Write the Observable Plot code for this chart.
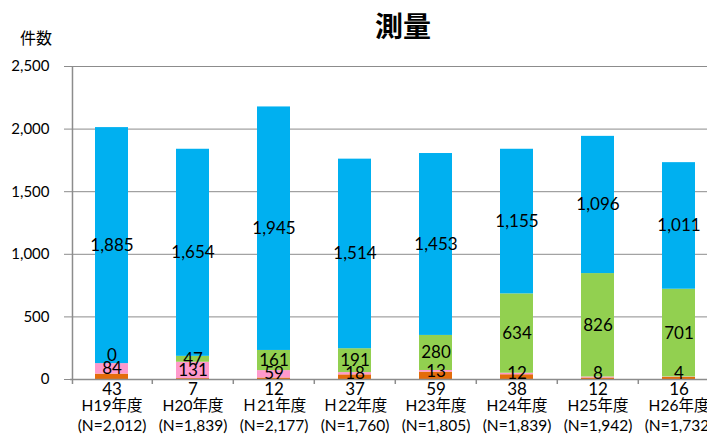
<!DOCTYPE html>
<html><head><meta charset="utf-8">
<script src="https://cdn.jsdelivr.net/npm/d3@7"></script>
<script src="https://cdn.jsdelivr.net/npm/@observablehq/plot@0.6"></script>
<style>
body{margin:0;background:#fff;}
#wrap{position:relative;width:707px;height:437px;overflow:hidden;font-family:Lato,"Noto Sans CJK JP",sans-serif;}
#title{position:absolute;left:343px;width:120px;top:10px;text-align:center;font-family:"Noto Sans CJK JP",sans-serif;font-weight:bold;font-size:28px;line-height:30px;color:#000;}
#ylab{position:absolute;left:16px;width:40px;top:28px;text-align:center;font-family:"Noto Sans CJK JP",sans-serif;font-size:16px;line-height:18px;color:#000;}
#chart{position:absolute;left:0;top:0;}
</style></head>
<body>
<div id="wrap">
<div id="chart"></div>
<div id="title">測量</div>
<div id="ylab">件数</div>
</div>
<script>
const years = ["H19年度","H20年度","Ｈ21年度","Ｈ22年度","H23年度","H24年度","H25年度","H26年度"];
const totals = [2012,1839,2177,1760,1805,1839,1942,1732];
const seriesNames = ["系列1","系列2","系列3","系列4"];
const seriesColors = ["#E46C0A","#FF99CC","#92D050","#00B0F0"];
const orange = [43,7,12,37,59,38,12,16];
const pink = [84,131,59,18,13,12,8,4];
const green = [0,47,161,191,280,634,826,701];
const blue = [1885,1654,1945,1514,1453,1155,1096,1011];
const yTicks = [0,500,1000,1500,2000,2500];

const seriesValues = [orange, pink, green, blue];
const rows = [];
years.forEach((yr, i) => {
  let acc = 0;
  seriesValues.forEach((vals, s) => {
    const v = vals[i];
    rows.push({year: yr, series: seriesNames[s], value: v, y1: acc, y2: acc + v});
    acc += v;
  });
});
const fmt = d3.format(",");
const step = 81.43;
const pad = 0.595;
const base = 68.8;
const r0 = base - step * pad / 2;
const r1 = r0 + step * (years.length + pad);
const grid = "#8c8c8c";
const isBottom = d => d.series === seriesNames[0];

const chart = Plot.plot({
  width: 707, height: 437,
  marginLeft: 70, marginRight: 0, marginTop: 66, marginBottom: 58,
  style: {fontFamily: 'Lato, "Noto Sans CJK JP", sans-serif', background: "#fff", color: "#000"},
  x: {domain: years, range: [r0, r1], padding: pad, align: 0.5},
  y: {domain: [0, 2500]},
  color: {domain: seriesNames, range: seriesColors},
  marks: [
    Plot.gridY(yTicks, {stroke: grid, strokeOpacity: 1, strokeWidth: 1}),
    Plot.axisY(yTicks, {tickSize: 6, tickPadding: 15, stroke: grid, fill: "#000", fontSize: 15, tickFormat: fmt, label: null}),
    Plot.ruleX([years[0]], {dx: -step / 2 + 1.2, y1: -40, y2: 2500, stroke: grid, strokeWidth: 1.5}),
    Plot.ruleX(years.slice(1), {dx: -step / 2, y1: -40, y2: 0, stroke: grid, strokeWidth: 1.5}),
    Plot.barY(rows, {x: "year", y1: "y1", y2: "y2", fill: "series"}),
    Plot.ruleY([0], {stroke: grid, strokeWidth: 1.5}),
    Plot.text(rows.filter(d => !isBottom(d) && d.value !== 0), {
      x: "year", y: d => Math.max((d.y1 + d.y2) / 2, 45), text: d => fmt(d.value), fontSize: 17, fill: "#000"}),
    Plot.text(rows.filter(d => !isBottom(d) && d.value === 0), {
      x: "year", y: d => d.y1, text: d => fmt(d.value), fontSize: 17, fill: "#000", dy: -8}),
    Plot.text(rows.filter(isBottom), {
      x: "year", y: d => 0, text: d => fmt(d.value), fontSize: 17, fill: "#000", dy: 10}),
    Plot.axisX({tickSize: 0, tickPadding: 17, fontSize: 15.5, lineHeight: 1.29, fill: "#000", label: null,
      tickFormat: d => `${d}\n(N=${fmt(totals[years.indexOf(d)])})`})
  ]
});
document.getElementById("chart").appendChild(chart);
</script>
</body></html>
